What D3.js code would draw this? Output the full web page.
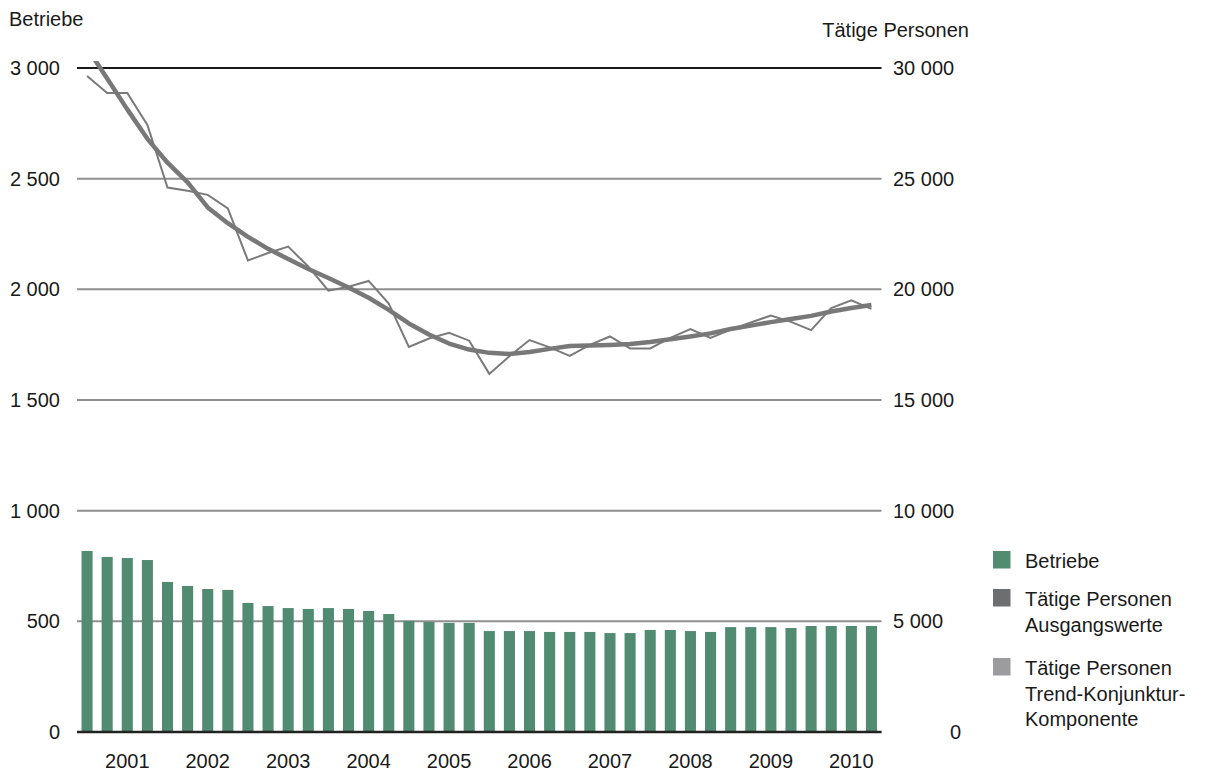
<!DOCTYPE html>
<html>
<head>
<meta charset="utf-8">
<script src="https://cdn.jsdelivr.net/npm/d3@7"></script>
<style>
  html, body { margin: 0; padding: 0; background: #fff; }
  svg { display: block; font-family: "Liberation Sans", Arial, sans-serif; }
</style>
</head>
<body>
<svg id="chart"></svg>
<script>
const years = ['2001', '2002', '2003', '2004', '2005', '2006', '2007', '2008', '2009', '2010'];
const quarters = years.flatMap(y => [1, 2, 3, 4].map(q => `${y}-${q}`));

// Betriebe (linke Achse), je Quartal
const betriebe = [
  818, 791, 786, 777, 678, 660, 646, 642,
  583, 569, 560, 556, 560, 556, 547, 533,
  502, 497, 493, 493, 456, 456, 456, 452,
  452, 452, 447, 447, 461, 461, 456, 452,
  474, 474, 474, 470, 479, 479, 479, 479
];

// Tätige Personen, Ausgangswerte (rechte Achse)
const personenAusgang = [
  29640, 28870, 28870, 27430, 24600, 24450, 24270, 23660,
  21300, 21640, 21930, 21030, 19940, 20120, 20380, 19360,
  17400, 17780, 18040, 17680, 16180, 16980, 17710, 17380,
  16990, 17490, 17870, 17330, 17330, 17810, 18200, 17800,
  18180, 18500, 18820, 18530, 18160, 19150, 19500, 19120
];

// Tätige Personen, Trend-Konjunktur-Komponente
const personenTrend = [
  30900, 29530, 28130, 26800, 25720, 24830, 23700, 22990,
  22370, 21830, 21370, 20920, 20510, 20080, 19620, 19070,
  18460, 17960, 17550, 17280, 17130, 17080, 17170, 17310,
  17440, 17460, 17490, 17530, 17620, 17740, 17870, 18010,
  18210, 18360, 18520, 18660, 18800, 19000, 19160, 19290
];

const leftTicks = [0, 500, 1000, 1500, 2000, 2500, 3000];
const rightTicks = [0, 5000, 10000, 15000, 20000, 25000, 30000];

const width = 1205, height = 775;
const plot = { left: 77, right: 881.5, top: 68, bottom: 732 };
const fontSize = 20;

const svg = d3.select('#chart').attr('width', width).attr('height', height);

const de = d3.formatLocale({ decimal: ',', thousands: ' ', grouping: [3], currency: ['', ' €'] });
const fmt = de.format(',d');

const x = d3.scaleBand()
  .domain(quarters)
  .range([plot.left, plot.right])
  .paddingInner(0.45)
  .paddingOuter(0.225);

const yL = d3.scaleLinear().domain([0, 3000]).range([plot.bottom, plot.top]);
const yR = d3.scaleLinear().domain([0, 30000]).range([plot.bottom, plot.top]);
const cx = q => x(q) + x.bandwidth() / 2;

// Gitternetz
svg.append('g')
  .selectAll('line')
  .data(leftTicks)
  .join('line')
  .attr('x1', plot.left)
  .attr('x2', plot.right)
  .attr('y1', d => yL(d))
  .attr('y2', d => yL(d))
  .attr('stroke', d => d === 3000 ? '#1a1a1a' : '#8f8f8f')
  .attr('stroke-width', 2);

// Balken
svg.append('g')
  .selectAll('rect')
  .data(quarters)
  .join('rect')
  .attr('x', d => x(d))
  .attr('width', x.bandwidth())
  .attr('y', (d, i) => yL(betriebe[i]))
  .attr('height', (d, i) => yL(0) - yL(betriebe[i]))
  .attr('fill', '#518b71');

// Nulllinie
svg.append('line')
  .attr('x1', plot.left).attr('x2', plot.right)
  .attr('y1', yL(0)).attr('y2', yL(0))
  .attr('stroke', '#222').attr('stroke-width', 2.5);

// Linien
svg.append('clipPath').attr('id', 'clip')
  .append('rect')
  .attr('x', 0).attr('y', plot.top - 7)
  .attr('width', width).attr('height', plot.bottom - plot.top + 7);

const line = d3.line()
  .x((d, i) => cx(quarters[i]))
  .y(d => yR(d));

const lines = svg.append('g').attr('clip-path', 'url(#clip)');

lines.append('path')
  .attr('d', line(personenAusgang))
  .attr('fill', 'none')
  .attr('stroke', '#7a7a7a')
  .attr('stroke-width', 2);

lines.append('path')
  .attr('d', line(personenTrend))
  .attr('fill', 'none')
  .attr('stroke', '#787878')
  .attr('stroke-width', 4.5)
  .attr('stroke-linejoin', 'round');

// Achsenbeschriftungen
svg.append('g')
  .selectAll('text')
  .data(leftTicks)
  .join('text')
  .attr('x', 60)
  .attr('y', d => yL(d))
  .attr('dy', '0.35em')
  .attr('text-anchor', 'end')
  .attr('font-size', fontSize)
  .attr('fill', '#1a1a1a')
  .text(d => fmt(d));

svg.append('g')
  .selectAll('text')
  .data(rightTicks)
  .join('text')
  .attr('x', d => d === 0 ? 950 : 893)
  .attr('y', d => yR(d))
  .attr('dy', '0.35em')
  .attr('font-size', fontSize)
  .attr('fill', '#1a1a1a')
  .text(d => d === 0 ? '0' : fmt(d));

svg.append('g')
  .selectAll('text')
  .data(years)
  .join('text')
  .attr('x', d => cx(`${d}-3`))
  .attr('y', 768)
  .attr('text-anchor', 'middle')
  .attr('font-size', fontSize)
  .attr('fill', '#1a1a1a')
  .text(d => d);

svg.append('text')
  .attr('x', 9).attr('y', 26)
  .attr('font-size', fontSize).attr('fill', '#1a1a1a')
  .text('Betriebe');

svg.append('text')
  .attr('x', 969).attr('y', 37)
  .attr('text-anchor', 'end')
  .attr('font-size', fontSize).attr('fill', '#1a1a1a')
  .text('Tätige Personen');

// Legende
const legendItems = [
  { color: '#518b71', lines: ['Betriebe'] },
  { color: '#6d6e70', lines: ['Tätige Personen', 'Ausgangswerte'] },
  { color: '#9c9c9e', lines: ['Tätige Personen', 'Trend-Konjunktur-', 'Komponente'] }
];
const legendTop = [551, 589, 658];

const legend = svg.append('g');
legend.selectAll('g')
  .data(legendItems)
  .join('g')
  .attr('transform', (d, i) => `translate(993, ${legendTop[i]})`)
  .each(function (d) {
    const g = d3.select(this);
    g.append('rect')
      .attr('width', 17.5)
      .attr('height', 17.5)
      .attr('fill', d.color);
    g.append('text')
      .attr('y', 17)
      .attr('font-size', fontSize)
      .attr('fill', '#1a1a1a')
      .selectAll('tspan')
      .data(d.lines)
      .join('tspan')
      .attr('x', 32)
      .attr('dy', (t, i) => i === 0 ? 0 : 25.5)
      .text(t => t);
  });
</script>
</body>
</html>
